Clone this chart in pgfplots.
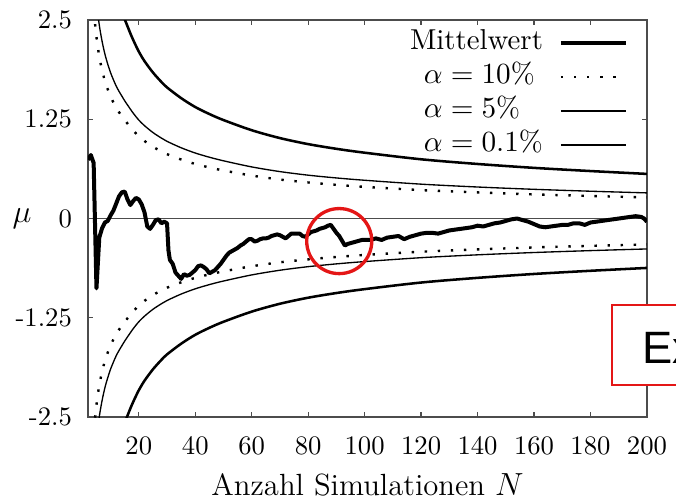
\documentclass[border=0pt]{standalone}
\usepackage{fontspec}
\usepackage{pgfplots}
\usepackage{calc}
\pgfplotsset{compat=1.18}
\newfontfamily\arialfont{Liberation Sans}
\definecolor{annred}{RGB}{228,22,22}

\begin{document}
\begin{tikzpicture}
\useasboundingbox (-33pt,-30.75pt) rectangle (220.5pt,156.4pt);
\begin{axis}[
  at={(0,0)}, anchor=south west,
  scale only axis, width=209.6pt, height=148.9pt,
  xmin=2, xmax=200, ymin=-2.5, ymax=2.5,
  enlargelimits=false,
  xtick={20,40,...,200},
  ytick={-2.5,-1.25,0,1.25,2.5},
  yticklabels={-2.5,-1.25,0,1.25,2.5},
  tick align=inside, xtick pos=both, ytick pos=both,
  major tick length=2pt,
  axis line style={black!70, line width=0.5pt},
  every tick/.style={black!70, line width=0.5pt},
  tick label style={font=\fontsize{10}{12}\selectfont},
  yticklabel style={xshift=-2.5pt},
  xticklabel style={yshift=-4.1pt},
  xlabel={Anzahl Simulationen $N$},
  xlabel style={font=\fontsize{11.5}{14}\selectfont, at={(axis description cs:0.5,0)}, anchor=base, yshift=-29.25pt},
  ylabel={$\mu$},
  ylabel style={font=\fontsize{11.5}{14}\selectfont, rotate=-90, at={(axis description cs:0,0.5)}, anchor=center, xshift=-24.75pt},
  legend style={draw=none, fill=none, at={(rel axis cs:1,1)}, anchor=north east,
    xshift=-7.1pt, yshift=-3.75pt, inner sep=0pt, outer sep=0pt,
    row sep=3.3pt, column sep=6pt, font=\fontsize{10.8}{13}\selectfont,
    nodes={inner sep=0pt, text height=7.3pt, text depth=2.2pt}},
  legend cell align=right,
  legend plot pos=right,
  legend image code/.code={\draw[#1] (0pt,0pt) -- (24.4pt,0pt);},
]
% zero line
\addplot[black!70, line width=0.5pt, forget plot] coordinates {(2,0) (200,0)};

% lower bands
\addplot[black, line width=0.9pt, dash pattern=on 0.9pt off 4pt, smooth, forget plot] coordinates {
(3,-3.164) (4,-2.703) (5,-2.348) (6,-2.099) (7,-1.927) (8,-1.792) (9,-1.687) (10,-1.596)
(11,-1.522) (12,-1.455) (13,-1.399) (14,-1.349) (15,-1.300) (16,-1.256) (18,-1.170) (20,-1.096)
(22,-1.037) (25,-0.964) (28,-0.905) (30,-0.871) (35,-0.803) (40,-0.747) (45,-0.703) (50,-0.665)
(60,-0.601) (70,-0.551) (80,-0.514) (90,-0.484) (100,-0.459) (120,-0.418) (140,-0.389)
(160,-0.364) (180,-0.344) (200,-0.326)};
\addplot[black, line width=0.5pt, smooth, forget plot] coordinates {
(4,-3.215) (5,-2.792) (6,-2.496) (7,-2.290) (8,-2.129) (9,-2.004) (10,-1.896) (11,-1.808)
(12,-1.727) (13,-1.661) (14,-1.602) (15,-1.543) (16,-1.490) (18,-1.388) (20,-1.300) (22,-1.230)
(25,-1.143) (28,-1.073) (30,-1.032) (35,-0.951) (40,-0.885) (45,-0.832) (50,-0.787) (60,-0.710)
(70,-0.651) (80,-0.606) (90,-0.571) (100,-0.542) (120,-0.493) (140,-0.457) (160,-0.428)
(180,-0.404) (200,-0.383)};
\addplot[black, line width=0.95pt, smooth, forget plot] coordinates {
(12,-2.879) (13,-2.767) (14,-2.669) (15,-2.570) (16,-2.481) (17,-2.392) (18,-2.310) (19,-2.234)
(20,-2.162) (22,-2.043) (25,-1.899) (28,-1.780) (30,-1.711) (35,-1.576) (40,-1.464) (45,-1.376)
(50,-1.300) (60,-1.172) (70,-1.073) (80,-0.997) (90,-0.938) (100,-0.889) (120,-0.806)
(140,-0.747) (160,-0.698) (180,-0.658) (200,-0.622)};

% Mittelwert
\addplot[black, line width=1.5pt, line join=round] table {
2 0.74
3 0.80
4 0.70
5 -0.88
6 -0.24
7 -0.12
8 -0.05
9 -0.03
10 0.04
11 0.10
12 0.19
13 0.28
14 0.33
15 0.34
16 0.24
17 0.17
18 0.22
19 0.26
20 0.24
21 0.18
22 0.08
23 -0.10
24 -0.13
25 -0.08
26 -0.02
27 -0.01
28 -0.06
29 -0.04
30 -0.06
30.5 -0.40
31 -0.52
32 -0.57
33 -0.68
34 -0.72
35 -0.76
36 -0.70
37 -0.72
38 -0.71
39 -0.68
40 -0.65
41 -0.60
42 -0.59
43 -0.61
44 -0.64
45 -0.69
46 -0.67
47 -0.65
48 -0.61
49 -0.57
50 -0.52
51 -0.47
52 -0.43
53 -0.41
54 -0.39
55 -0.37
56 -0.34
57 -0.32
58 -0.29
59 -0.26
60 -0.26
61 -0.29
62 -0.28
63 -0.26
64 -0.25
65 -0.25
66 -0.24
67 -0.22
68 -0.21
69 -0.20
70 -0.21
71 -0.23
72 -0.25
73 -0.22
74 -0.19
75 -0.19
76 -0.19
77 -0.19
78 -0.22
79 -0.23
80 -0.20
81 -0.17
82 -0.16
83 -0.15
84 -0.13
85 -0.12
86 -0.11
87 -0.09
88 -0.08
89 -0.13
90 -0.18
91 -0.22
92 -0.28
93 -0.34
94 -0.32
95 -0.31
96 -0.30
97 -0.29
98 -0.28
99 -0.27
100 -0.27
102 -0.27
104 -0.25
106 -0.27
108 -0.24
110 -0.23
112 -0.22
114 -0.26
116 -0.23
118 -0.21
120 -0.19
122 -0.18
124 -0.18
126 -0.19
128 -0.17
130 -0.15
132 -0.14
134 -0.13
136 -0.12
138 -0.11
140 -0.09
142 -0.10
144 -0.08
146 -0.06
148 -0.05
150 -0.03
152 -0.01
154 0.00
156 -0.02
158 -0.04
160 -0.07
162 -0.10
164 -0.11
166 -0.10
168 -0.09
170 -0.08
172 -0.08
174 -0.06
176 -0.06
178 -0.08
180 -0.05
182 -0.04
184 -0.03
186 -0.02
188 -0.01
190 0.00
192 0.01
194 0.02
196 0.03
198 0.02
199 0.00
200 -0.04
};
\addlegendentry{Mittelwert}

% upper bands
\addplot[black, line width=0.9pt, dash pattern=on 0.9pt off 4pt, smooth] coordinates {
(3,3.104) (4,2.643) (5,2.288) (6,2.039) (7,1.867) (8,1.732) (9,1.627) (10,1.536)
(11,1.462) (12,1.395) (13,1.339) (14,1.289) (15,1.240) (16,1.196) (18,1.110) (20,1.036)
(22,0.977) (25,0.904) (28,0.845) (30,0.811) (35,0.743) (40,0.687) (45,0.643) (50,0.605)
(60,0.541) (70,0.491) (80,0.454) (90,0.424) (100,0.399) (120,0.358) (140,0.329)
(160,0.304) (180,0.284) (200,0.266)};
\addlegendentry{\makebox[\widthof{$\alpha = 0.1\%$}][l]{$\alpha = 10\%$}}
\addplot[black, line width=0.5pt, smooth] coordinates {
(4,3.155) (5,2.732) (6,2.436) (7,2.230) (8,2.069) (9,1.944) (10,1.836) (11,1.748)
(12,1.667) (13,1.601) (14,1.542) (15,1.483) (16,1.430) (18,1.328) (20,1.240) (22,1.170)
(25,1.083) (28,1.013) (30,0.972) (35,0.891) (40,0.825) (45,0.772) (50,0.727) (60,0.650)
(70,0.591) (80,0.546) (90,0.511) (100,0.482) (120,0.433) (140,0.397) (160,0.368)
(180,0.344) (200,0.323)};
\addlegendentry{\makebox[\widthof{$\alpha = 0.1\%$}][l]{$\alpha = 5\%$}}
\addplot[black, line width=0.95pt, smooth] coordinates {
(12,2.819) (13,2.707) (14,2.609) (15,2.510) (16,2.421) (17,2.332) (18,2.250) (19,2.174)
(20,2.102) (22,1.983) (25,1.839) (28,1.720) (30,1.651) (35,1.516) (40,1.404) (45,1.316)
(50,1.240) (60,1.112) (70,1.013) (80,0.937) (90,0.878) (100,0.829) (120,0.746)
(140,0.687) (160,0.638) (180,0.598) (200,0.562)};
\addlegendentry{$\alpha = 0.1\%$}

\draw[annred, line width=1.25pt] (axis cs:91,-0.284) circle[radius=12.2pt];
\end{axis}
\begin{scope}
\clip (-33pt,-30.75pt) rectangle (220.5pt,156.4pt);
\draw[annred, line width=0.6pt, fill=white] (196.4pt,12pt) rectangle (240pt,42pt);
\node[anchor=base west, inner sep=0pt, font=\arialfont\fontsize{17}{20}\selectfont] at (207.6pt,20.1pt) {Ex};
\end{scope}
\end{tikzpicture}
\end{document}
